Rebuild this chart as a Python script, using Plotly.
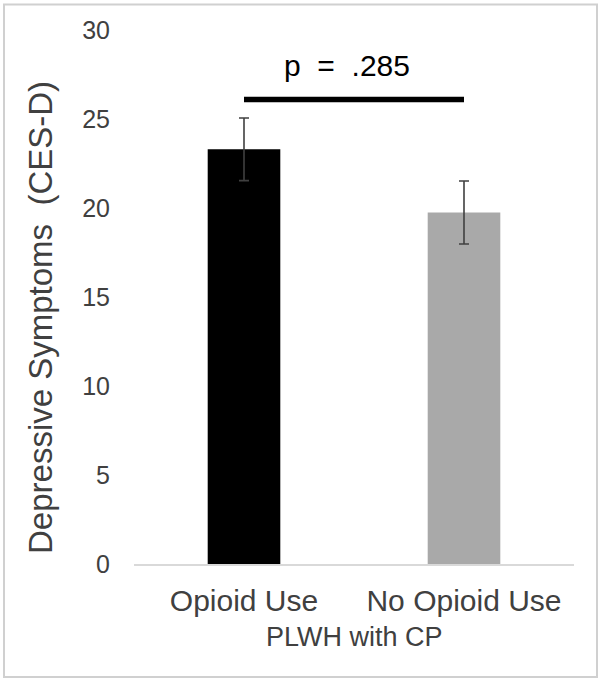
import plotly.graph_objects as go

# data
groups = ['Opioid Use', 'No Opioid Use']
means = [23.3, 19.75]
sems = [1.76, 1.77]
bar_colors = ['#000000', '#a9a9a9']
sig_level = 26.1
p_label = 'p\u00a0 =\u00a0 .285'
y_ticks = [0, 5, 10, 15, 20, 25, 30]

W, H = 604, 683
L, R, T, B = 134, 30, 30, 119
PW, PH = W - L - R, H - T - B


def px_x(px):
    # pixel column -> paper x
    return (px - L) / PW


def px_y(py):
    # pixel row -> paper y
    return (H - B - py) / PH


font = 'Liberation Sans, Arial, sans-serif'
grey_txt = '#404040'

fig = go.Figure()

fig.add_trace(go.Bar(
    x=groups,
    y=means,
    marker_color=bar_colors,
    marker_line_width=0,
    error_y=dict(type='data', array=sems, color='#404040', thickness=1.6, width=5),
    showlegend=False,
))

# significance bar between the two groups
fig.add_trace(go.Scatter(
    x=groups,
    y=[sig_level, sig_level],
    mode='lines',
    line=dict(color='black', width=5.5),
    cliponaxis=False,
    showlegend=False,
    hoverinfo='skip',
))

fig.add_annotation(
    x=0.47, y=28.0, xref='x', yref='y',
    text=p_label, showarrow=False,
    font=dict(family=font, size=30, color='black'),
    xanchor='center', yanchor='middle',
)

fig.add_annotation(
    x=px_x(40), y=px_y(318), xref='paper', yref='paper',
    text='Depressive Symptoms\u00a0 (CES-D)', textangle=-90, showarrow=False,
    font=dict(family=font, size=33, color=grey_txt),
    xanchor='center', yanchor='middle',
)

fig.add_annotation(
    x=0.5, y=px_y(637), xref='paper', yref='paper',
    text='PLWH with CP', showarrow=False,
    font=dict(family=font, size=27, color=grey_txt),
    xanchor='center', yanchor='middle',
)

# outer frame
fig.add_shape(
    type='rect', xref='paper', yref='paper',
    x0=px_x(4), x1=px_x(597), y0=px_y(677), y1=px_y(4.5),
    line=dict(color='#d0d0d0', width=2), fillcolor='rgba(0,0,0,0)',
    layer='below',
)

fig.update_layout(
    width=W, height=H,
    margin=dict(l=L, r=R, t=T, b=B),
    paper_bgcolor='white',
    plot_bgcolor='white',
    bargap=0.67,
    font=dict(family=font, color=grey_txt),
)

fig.update_xaxes(
    showline=True, linecolor='#d9d9d9', linewidth=1.5,
    showgrid=False, zeroline=False,
    ticks='outside', ticklen=9, tickcolor='rgba(0,0,0,0)',
    tickfont=dict(family=font, size=30, color=grey_txt),
)

fig.update_yaxes(
    range=[0, 30], tickvals=y_ticks,
    showline=False, showgrid=False, zeroline=False,
    ticks='outside', ticklen=18, tickcolor='rgba(0,0,0,0)',
    tickfont=dict(family=font, size=25, color=grey_txt),
)

fig.write_html('out.html', config={'displayModeBar': False},
               post_script="document.body.style.margin='0';")
